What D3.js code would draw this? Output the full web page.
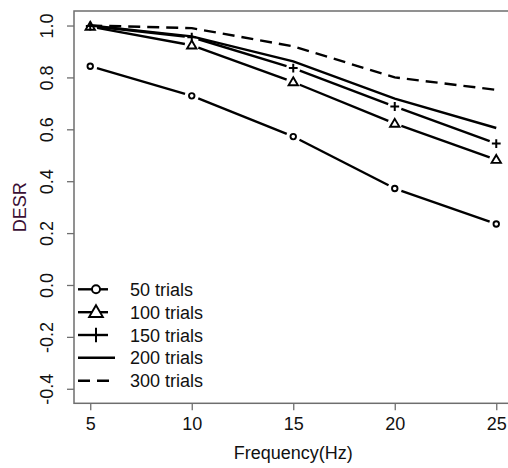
<!DOCTYPE html>
<html>
<head>
<meta charset="utf-8">
<script src="https://cdn.jsdelivr.net/npm/d3@7"></script>
<style>
  html, body { margin: 0; padding: 0; background: #fff; }
  svg { display: block; }
  text { font-family: "Liberation Sans", Arial, sans-serif; }
</style>
</head>
<body>
<div id="chart"></div>
<script>
// Frequencies (Hz) on the x axis
const frequencies = [5, 10, 15, 20, 25];

// DESR per number of trials
const desr50  = [0.843, 0.729, 0.572, 0.372, 0.235];
const desr100 = [0.996, 0.924, 0.782, 0.622, 0.483];
const desr150 = [0.998, 0.955, 0.836, 0.688, 0.545];
const desr200 = [1.000, 0.958, 0.862, 0.718, 0.605];
const desr300 = [1.000, 0.990, 0.920, 0.800, 0.752];

const seriesNames = ["50 trials", "100 trials", "150 trials", "200 trials", "300 trials"];

const xTicks = [5, 10, 15, 20, 25];
const yTicks = [-0.4, -0.2, 0.0, 0.2, 0.4, 0.6, 0.8, 1.0];

const W = 508, H = 468;
const plotL = 74, plotT = 11, plotR = 512.5, plotB = 403.3;

const svg = d3.select("#chart").append("svg")
  .attr("width", W).attr("height", H);

// R-style axis ranges: data range extended by 4% on each side
const x = d3.scaleLinear().domain([4.2, 25.8]).range([plotL, plotR]);
const y = d3.scaleLinear().domain([-0.456, 1.056]).range([plotB, plotT]);

const series = [
  { name: seriesNames[0], values: desr50,  marker: "circle",   dash: null },
  { name: seriesNames[1], values: desr100, marker: "triangle", dash: null },
  { name: seriesNames[2], values: desr150, marker: "plus",     dash: null },
  { name: seriesNames[3], values: desr200, marker: null,       dash: null },
  { name: seriesNames[4], values: desr300, marker: null,       dash: "12,7" }
];

const ink = "#000";
const lineW = 2.4;

// marker drawing helper
function drawMarker(g, type, cx, cy, s) {
  if (type === "circle") {
    g.append("circle").attr("cx", cx).attr("cy", cy).attr("r", s * 0.5)
      .attr("fill", "#fff").attr("stroke", ink).attr("stroke-width", 1.9);
  } else if (type === "triangle") {
    const h = s * 0.9;
    g.append("path")
      .attr("d", `M${cx},${cy - h * 0.62}L${cx + s * 0.55},${cy + h * 0.42}L${cx - s * 0.55},${cy + h * 0.42}Z`)
      .attr("fill", "#fff").attr("stroke", ink).attr("stroke-width", 1.9)
      .attr("stroke-linejoin", "miter");
  } else if (type === "plus") {
    g.append("path")
      .attr("d", `M${cx - s * 0.55},${cy}H${cx + s * 0.55}M${cx},${cy - s * 0.55}V${cy + s * 0.55}`)
      .attr("fill", "none").attr("stroke", ink).attr("stroke-width", 2);
  }
}

const plot = svg.append("g");

series.forEach(s => {
  const pts = frequencies.map((f, i) => [x(f), y(s.values[i])]);
  if (s.marker) {
    // type "b": segments with gaps around each point
    const gap = 7;
    for (let i = 0; i < pts.length - 1; i++) {
      const [x0, y0] = pts[i], [x1, y1] = pts[i + 1];
      const len = Math.hypot(x1 - x0, y1 - y0);
      const ux = (x1 - x0) / len, uy = (y1 - y0) / len;
      plot.append("line")
        .attr("x1", x0 + ux * gap).attr("y1", y0 + uy * gap)
        .attr("x2", x1 - ux * gap).attr("y2", y1 - uy * gap)
        .attr("stroke", ink).attr("stroke-width", lineW);
    }
    const size = s.marker === "circle" ? 5.5 : (s.marker === "triangle" ? 8.5 : 8);
    pts.forEach(p => drawMarker(plot, s.marker, p[0], p[1], size));
  } else {
    plot.append("path")
      .attr("d", d3.line()(pts))
      .attr("fill", "none").attr("stroke", ink).attr("stroke-width", lineW)
      .attr("stroke-dasharray", s.dash);
  }
});

// Box around the plotting region
const frameColor = "#6e6e6e";
svg.append("rect")
  .attr("x", plotL).attr("y", plotT)
  .attr("width", plotR - plotL).attr("height", plotB - plotT)
  .attr("fill", "none").attr("stroke", frameColor).attr("stroke-width", 1.5);

// Bottom axis
const xAxis = svg.append("g")
  .attr("transform", `translate(0,${plotB})`)
  .call(d3.axisBottom(x).tickValues(xTicks).tickSize(7).tickPadding(7).tickFormat(d3.format("d")));
xAxis.select(".domain").remove();
xAxis.selectAll(".tick line").attr("stroke", frameColor).attr("stroke-width", 1.3);
xAxis.selectAll(".tick text")
  .attr("font-size", 18).attr("fill", "#111")
  .attr("font-family", "Liberation Sans, Arial, sans-serif");

// Left axis with rotated labels
const yAxis = svg.append("g")
  .attr("transform", `translate(${plotL},0)`)
  .call(d3.axisLeft(y).tickValues(yTicks).tickSize(7).tickFormat(d3.format(".1f")));
yAxis.select(".domain").remove();
yAxis.selectAll(".tick line").attr("stroke", frameColor).attr("stroke-width", 1.3);
yAxis.selectAll(".tick text")
  .attr("font-size", 18).attr("fill", "#111")
  .attr("font-family", "Liberation Sans, Arial, sans-serif")
  .attr("x", null).attr("dy", null)
  .attr("text-anchor", "middle")
  .attr("transform", "translate(-21,0) rotate(-90)")
  .text(d => d.toFixed(1));

// Axis titles
svg.append("text")
  .attr("x", (x(5) + x(25)) / 2).attr("y", 459)
  .attr("text-anchor", "middle").attr("font-size", 18).attr("fill", "#111")
  .text("Frequency(Hz)");

svg.append("text")
  .attr("transform", `translate(25.5,${(plotT + plotB) / 2}) rotate(-90)`)
  .attr("text-anchor", "middle").attr("font-size", 18).attr("fill", "#3a0f35")
  .text("DESR");

// Legend
const legend = svg.append("g");
const rowY = [289.3, 312.2, 335, 357.8, 380.8];
series.forEach((s, i) => {
  const cy = rowY[i];
  if (s.marker) {
    legend.append("line").attr("x1", 78).attr("x2", 108).attr("y1", cy).attr("y2", cy)
      .attr("stroke", ink).attr("stroke-width", lineW);
    const size = s.marker === "circle" ? 8 : (s.marker === "triangle" ? 12.5 : 13);
    drawMarker(legend, s.marker, 96, cy, size);
  } else {
    legend.append("line").attr("x1", 78).attr("x2", s.dash ? 110 : 115).attr("y1", cy).attr("y2", cy)
      .attr("stroke", ink).attr("stroke-width", lineW)
      .attr("stroke-dasharray", s.dash);
  }
  legend.append("text")
    .attr("x", 130).attr("y", cy + 6.5)
    .attr("font-size", 18).attr("fill", "#111")
    .text(s.name);
});
</script>
</body>
</html>
